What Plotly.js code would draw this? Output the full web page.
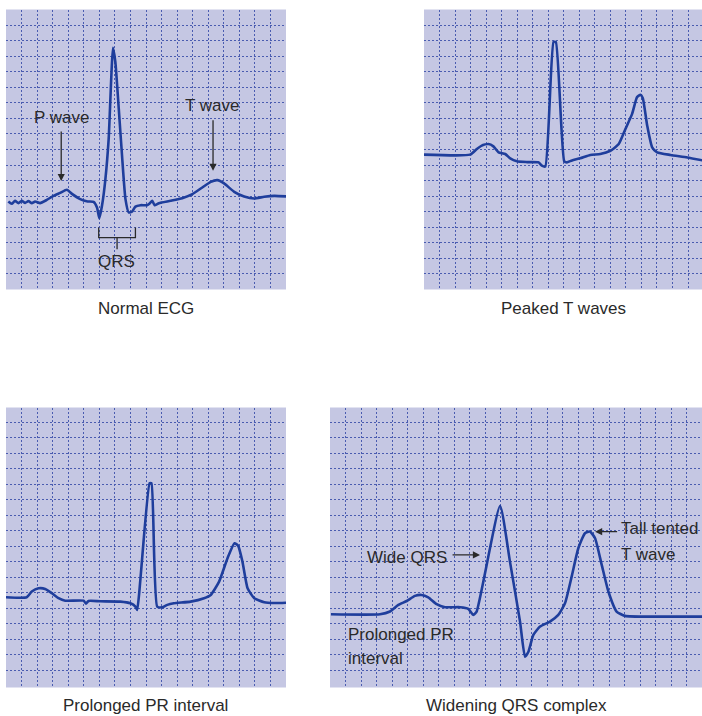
<!DOCTYPE html>
<html>
<head>
<meta charset="utf-8">
<script src="https://cdn.plot.ly/plotly-3.0.1.min.js"></script>
<style>
  html, body { margin: 0; padding: 0; background: #ffffff; }
  #chart { width: 702px; height: 716px; }
</style>
</head>
<body>
<div id="chart"></div>
<script>
// ---- Data (grid units: 1 unit = one small grid square) ----
const captions = ["Normal ECG", "Peaked T waves", "Prolonged PR interval", "Widening QRS complex"];

const normalX = [0.15,0.37,0.58,0.80,1.01,1.23,1.44,1.66,1.87,2.19,2.62,3.05,3.48,3.91,4.24,4.77,5.25,5.63,5.85,6.00,6.17,6.39,6.60,6.88,7.03,7.25,7.46,7.68,7.89,8.11,8.32,8.65,9.07,9.25,9.40,9.55,9.83,10.58,11.33,11.98,12.62,13.16,13.59,14.02,14.67,15.31,15.96,16.60,17.25,18.06];
const normalY = [5.66,5.51,5.70,5.55,5.70,5.57,5.68,5.55,5.66,5.55,5.76,6.02,6.21,6.41,6.15,5.81,5.66,5.63,5.27,4.58,5.38,7.10,9.68,15.53,14.62,11.61,8.60,5.81,4.95,5.01,5.33,5.42,5.42,5.55,5.70,5.42,5.55,5.70,5.87,6.13,6.56,6.92,7.03,6.82,6.28,5.98,5.85,5.96,6.02,5.98];

const peakedX = [0,2.97,3.40,3.72,4.15,4.47,4.80,5.23,5.55,5.98,6.62,7.38,7.59,7.81,8.34,8.49,9.03,9.20,9.53,10.06,10.71,11.35,12.00,12.54,12.97,13.40,13.72,13.94,14.09,14.37,14.69,15.01,15.87,16.95,17.94];
const peakedY = [8.67,8.67,9.03,9.25,9.35,9.20,8.82,8.71,8.43,8.24,8.19,8.17,7.96,7.91,15.91,15.91,8.24,8.17,8.30,8.43,8.65,8.71,8.92,9.35,10.32,11.29,12.37,12.52,12.30,10.54,9.14,8.82,8.65,8.49,8.30];

const prolongedX = [0,1.33,1.66,2.09,2.52,2.95,3.38,3.81,4.99,5.14,5.31,6.06,7.35,8.00,8.32,8.43,9.23,9.35,9.72,10.04,10.37,10.79,11.87,12.73,13.16,13.70,14.24,14.69,14.92,15.20,15.53,15.96,16.60,17.25,18.00];
const prolongedY = [5.72,5.72,6.09,6.30,6.26,5.98,5.66,5.50,5.50,5.31,5.48,5.46,5.44,5.33,5.12,4.90,13.08,13.08,5.12,5.07,5.23,5.33,5.44,5.66,5.87,6.73,8.24,9.20,9.05,8.02,6.30,5.66,5.40,5.35,5.37];

const wideX = [0.06,3.23,3.87,4.41,4.95,5.48,5.91,6.34,6.88,7.42,8.39,8.92,9.25,9.46,10.97,11.61,12.26,12.58,12.80,13.12,13.55,14.19,14.73,15.16,15.59,16.02,16.45,16.77,17.10,17.53,17.96,18.49,19.03,20.86,24.0];
const wideY = [4.62,4.62,4.80,5.23,5.48,5.81,5.87,5.72,5.27,5.08,5.08,4.97,4.58,4.80,11.61,8.02,4.15,1.89,2.21,3.29,3.83,4.15,4.58,5.33,7.05,8.88,9.85,9.96,9.53,7.81,6.09,4.80,4.52,4.47,4.47];

// ---- Styling ----
const BG = '#c5c7e3';
const GRID = '#4a5cb0';
const LINE = '#1f3e9c';
const TXT = '#2a2a2a';
const FONT = 'Liberation Sans, Arial, sans-serif';
const W = 702, H = 716;

function ticks(n) { const t = []; for (let i = 1; i < n; i++) t.push(i); return t; }
function ax(domain, range, n) {
  return {
    domain: domain, range: range, fixedrange: true,
    showticklabels: false, ticks: '', showline: false, zeroline: false,
    showgrid: true, gridcolor: GRID, gridwidth: 1, griddash: '2px,2px',
    tickmode: 'array', tickvals: ticks(n)
  };
}
function py(top, bottom) { return [1 - bottom / H, 1 - top / H]; }

const traceStyle = { mode: 'lines', line: { color: LINE, width: 2.6, shape: 'spline', smoothing: 0.5 }, hoverinfo: 'skip', showlegend: false };
const data = [
  Object.assign({ x: normalX, y: normalY, xaxis: 'x', yaxis: 'y' }, traceStyle),
  Object.assign({ x: peakedX, y: peakedY, xaxis: 'x2', yaxis: 'y2' }, traceStyle),
  Object.assign({ x: prolongedX, y: prolongedY, xaxis: 'x3', yaxis: 'y3' }, traceStyle),
  Object.assign({ x: wideX, y: wideY, xaxis: 'x4', yaxis: 'y4' }, traceStyle)
];

function label(text, xref, yref, x, y, xanchor) {
  return { text: text, xref: xref, yref: yref, x: x, y: y, xanchor: xanchor || 'center', yanchor: 'middle',
           showarrow: false, borderpad: 0, font: { family: FONT, size: 17, color: TXT } };
}
function caption(text, xref, ypx) {
  return { text: text, xref: xref, yref: 'paper', x: 0.5, y: 1 - ypx / H, yanchor: 'middle', showarrow: false,
           font: { family: FONT, size: 17, color: TXT } };
}
function arrow(xref, yref, x, y, axv, ayv) {
  return { text: '', xref: xref, yref: yref, x: x, y: y, axref: xref, ayref: yref, ax: axv, ay: ayv,
           showarrow: true, arrowhead: 2, arrowsize: 1.1, arrowwidth: 1.3, arrowcolor: TXT, standoff: 0 };
}

const annotations = [
  // captions
  caption(captions[0], 'x domain', 308),
  caption(captions[1], 'x2 domain', 308),
  caption(captions[2], 'x3 domain', 705),
  caption(captions[3], 'x4 domain', 705),
  // panel 1
  label('P wave', 'x', 'y', 3.57, 11.08),
  arrow('x', 'y', 3.55, 6.97, 3.55, 10.26),
  label('T wave', 'x', 'y', 13.30, 11.83),
  arrow('x', 'y', 13.31, 7.63, 13.31, 10.97),
  label('QRS', 'x', 'y', 7.12, 1.83),
  // panel 4
  label('Wide QRS', 'x4', 'y4', 7.63, 8.31, 'right'),
  arrow('x4', 'y4', 9.68, 8.45, 7.81, 8.45),
  label('Tall tented', 'x4', 'y4', 18.72, 10.13, 'left'),
  label('T wave', 'x4', 'y4', 18.72, 8.45, 'left'),
  arrow('x4', 'y4', 17.10, 9.95, 18.62, 9.95),
  label('Prolonged PR', 'x4', 'y4', 1.12, 3.35, 'left'),
  label('interval', 'x4', 'y4', 1.12, 1.77, 'left')
];

const shapes = [
  { type: 'path', xref: 'x', yref: 'y', path: 'M5.96,3.98 L5.96,3.34 L8.32,3.34 L8.32,3.98 M7.14,3.34 L7.14,2.58',
    line: { color: TXT, width: 1.3 } }
];

const layout = {
  width: W, height: H,
  margin: { l: 0, r: 0, t: 0, b: 0, pad: 0 },
  paper_bgcolor: '#ffffff', plot_bgcolor: BG,
  showlegend: false,
  xaxis:  ax([6 / W, 286 / W], [0, 18], 18),
  yaxis:  ax(py(9.5, 289.5), [0, 18], 18),
  xaxis2: ax([424 / W, 1], [0, 17.9], 18),
  yaxis2: ax(py(9.5, 289.5), [0, 18], 18),
  xaxis3: ax([6 / W, 286 / W], [0, 18], 18),
  yaxis3: ax(py(407.5, 687.5), [-0.1, 17.96], 18),
  xaxis4: ax([330 / W, 1], [0, 24], 24),
  yaxis4: ax(py(407.5, 687.5), [-0.1, 17.96], 18),
  annotations: annotations,
  shapes: shapes
};

Plotly.newPlot('chart', data, layout, { staticPlot: true, displayModeBar: false });
</script>
</body>
</html>
